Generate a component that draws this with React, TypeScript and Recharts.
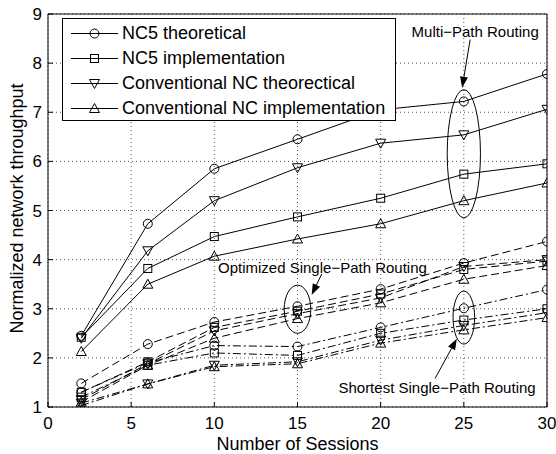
import React from "react";
import {
  LineChart,
  Line,
  XAxis,
  YAxis,
  CartesianGrid,
  Legend,
  ReferenceArea,
  ReferenceLine,
  ReferenceDot,
} from "recharts";

const FONT = "'Liberation Sans', Arial, Helvetica, sans-serif";

const SESSIONS = [2, 6, 10, 15, 20, 25, 30];
const X_TICKS = [0, 5, 10, 15, 20, 25, 30];
const Y_TICKS = [1, 2, 3, 4, 5, 6, 7, 8, 9];

// multi-path routing (solid)
const MP_NC5_THEO = [2.45, 4.73, 5.85, 6.45, 7.05, 7.22, 7.78];
const MP_NC5_IMPL = [2.42, 3.82, 4.47, 4.87, 5.25, 5.74, 5.95];
const MP_CNC_THEO = [2.4, 4.18, 5.2, 5.87, 6.37, 6.54, 7.06];
const MP_CNC_IMPL = [2.13, 3.5, 4.07, 4.42, 4.73, 5.2, 5.56];
// optimized single-path routing (dashed)
const OS_NC5_THEO = [1.48, 2.28, 2.73, 3.05, 3.4, 3.93, 4.37];
const OS_NC5_IMPL = [1.3, 1.92, 2.62, 2.95, 3.3, 3.8, 3.97];
const OS_CNC_THEO = [1.15, 1.88, 2.55, 2.9, 3.22, 3.86, 4.0];
const OS_CNC_IMPL = [1.1, 1.85, 2.4, 2.8, 3.12, 3.6, 3.88];
// shortest single-path routing (dash-dot)
const SS_NC5_THEO = [1.3, 1.9, 2.25, 2.23, 2.62, 3.01, 3.39];
const SS_NC5_IMPL = [1.2, 1.85, 2.1, 2.05, 2.5, 2.77, 3.0];
const SS_CNC_THEO = [1.08, 1.47, 1.85, 1.92, 2.36, 2.66, 2.92];
const SS_CNC_IMPL = [1.03, 1.47, 1.82, 1.88, 2.3, 2.57, 2.82];

const LEGEND_NAMES = [
  "NC5 theoretical",
  "NC5 implementation",
  "Conventional NC theorectical",
  "Conventional NC implementation",
];
const MARKERS = ["circle", "square", "down", "up"];

const SERIES = [
  { key: "mp0", values: MP_NC5_THEO, marker: 0, dash: undefined },
  { key: "mp1", values: MP_NC5_IMPL, marker: 1, dash: undefined },
  { key: "mp2", values: MP_CNC_THEO, marker: 2, dash: undefined },
  { key: "mp3", values: MP_CNC_IMPL, marker: 3, dash: undefined },
  { key: "os0", values: OS_NC5_THEO, marker: 0, dash: "8 4" },
  { key: "os1", values: OS_NC5_IMPL, marker: 1, dash: "8 4" },
  { key: "os2", values: OS_CNC_THEO, marker: 2, dash: "8 4" },
  { key: "os3", values: OS_CNC_IMPL, marker: 3, dash: "8 4" },
  { key: "ss0", values: SS_NC5_THEO, marker: 0, dash: "8 3 2 3" },
  { key: "ss1", values: SS_NC5_IMPL, marker: 1, dash: "8 3 2 3" },
  { key: "ss2", values: SS_CNC_THEO, marker: 2, dash: "8 3 2 3" },
  { key: "ss3", values: SS_CNC_IMPL, marker: 3, dash: "8 3 2 3" },
];

const data = SESSIONS.map((x, i) => {
  const row: Record<string, number> = { x };
  SERIES.forEach((s) => {
    row[s.key] = s.values[i];
  });
  return row;
});

// annotations, in data units
const ELLIPSES = [
  { x1: 24, x2: 26, y1: 4.85, y2: 7.46 },
  { x1: 14.2, x2: 15.8, y1: 2.5, y2: 3.48 },
  { x1: 24.35, x2: 25.65, y1: 2.28, y2: 3.36 },
];
const ARROWS = [
  [{ x: 25.38, y: 8.48 }, { x: 24.9, y: 7.5 }],
  [{ x: 16.46, y: 3.71 }, { x: 15.85, y: 3.28 }],
  [{ x: 23.27, y: 1.58 }, { x: 24.58, y: 2.39 }],
];
const NOTES = [
  { x: 25.68, y: 8.64, text: "Multi\u2212Path Routing" },
  { x: 16.5, y: 3.83, text: "Optimized Single\u2212Path Routing" },
  { x: 23.39, y: 1.4, text: "Shortest Single\u2212Path Routing" },
];

function Marker({ cx, cy, kind }: { cx: number; cy: number; kind: string }) {
  if (cx == null || cy == null) return null;
  const p = { fill: "none", stroke: "#000", strokeWidth: 1 };
  if (kind === "circle") return <circle cx={cx} cy={cy} r={4.5} {...p} />;
  if (kind === "square")
    return <rect x={cx - 4} y={cy - 4} width={8} height={8} {...p} />;
  if (kind === "down")
    return (
      <polygon
        points={`${cx - 5},${cy - 4} ${cx + 5},${cy - 4} ${cx},${cy + 5}`}
        {...p}
      />
    );
  return (
    <polygon
      points={`${cx - 5},${cy + 4} ${cx + 5},${cy + 4} ${cx},${cy - 5}`}
      {...p}
    />
  );
}

function LegendBox() {
  return (
    <div
      style={{
        border: "1px solid #000",
        background: "#fff",
        width: 334,
        height: 103,
        paddingTop: 2,
        boxSizing: "border-box",
        fontFamily: FONT,
        fontSize: 18,
        color: "#000",
      }}
    >
      {LEGEND_NAMES.map((name, i) => (
        <div
          key={name}
          style={{ display: "flex", alignItems: "center", height: 25 }}
        >
          <svg width={59} height={25} style={{ flex: "none" }}>
            <line x1={8} x2={55} y1={12.5} y2={12.5} stroke="#000" />
            <Marker cx={31.5} cy={12.5} kind={MARKERS[i]} />
          </svg>
          <span style={{ whiteSpace: "nowrap" }}>{name}</span>
        </div>
      ))}
    </div>
  );
}

function Arrow(props: any) {
  const { x1, y1, x2, y2 } = props;
  if ([x1, y1, x2, y2].some((v) => v == null)) return null;
  const a = Math.atan2(y2 - y1, x2 - x1);
  const len = 11;
  const w = 4;
  const bx = x2 - len * Math.cos(a);
  const by = y2 - len * Math.sin(a);
  const nx = -Math.sin(a) * w;
  const ny = Math.cos(a) * w;
  return (
    <g>
      <line x1={x1} y1={y1} x2={bx} y2={by} stroke="#000" strokeWidth={1} />
      <polygon
        points={`${x2},${y2} ${bx + nx},${by + ny} ${bx - nx},${by - ny}`}
        fill="#000"
      />
    </g>
  );
}

export default function App() {
  const tickStyle = { fontFamily: FONT, fontSize: 17, fill: "#000" };
  return (
    <div style={{ position: "absolute", left: 0, top: 0, background: "#fff" }}>
      <LineChart
        width={556}
        height={454}
        data={data}
        margin={{ top: 13, right: 8, bottom: 0, left: 0 }}
      >
        <CartesianGrid
          stroke="#555"
          strokeDasharray="1 3"
          xAxisId="b"
          yAxisId="l"
        />
        <XAxis
          xAxisId="b"
          dataKey="x"
          type="number"
          domain={[0, 30]}
          ticks={X_TICKS}
          height={47}
          tickSize={-5}
          tickMargin={15}
          stroke="#000"
          tick={tickStyle}
          allowDataOverflow
          label={{
            value: "Number of Sessions",
            position: "insideBottom",
            offset: 4,
            style: { fontFamily: FONT, fontSize: 18, fill: "#000" },
          }}
        />
        <XAxis
          xAxisId="t"
          dataKey="x"
          type="number"
          orientation="top"
          domain={[0, 30]}
          ticks={X_TICKS}
          height={1}
          tickSize={-5}
          tick={false}
          stroke="#000"
        />
        <YAxis
          yAxisId="l"
          type="number"
          domain={[1, 9]}
          ticks={Y_TICKS}
          width={48}
          tickSize={-5}
          tickMargin={11}
          stroke="#000"
          tick={tickStyle}
          allowDataOverflow
          label={{
            content: ({ viewBox }: any) => (
              <text
                x={viewBox.x + 17}
                y={viewBox.y + viewBox.height / 2 - 2}
                transform={`rotate(-90, ${viewBox.x + 17}, ${
                  viewBox.y + viewBox.height / 2 - 2
                })`}
                textAnchor="middle"
                dominantBaseline="central"
                fontFamily={FONT}
                fontSize={18}
                fill="#000"
              >
                Normalized network throughput
              </text>
            ),
          }}
        />
        <YAxis
          yAxisId="r"
          type="number"
          orientation="right"
          domain={[1, 9]}
          ticks={Y_TICKS}
          width={1}
          tickSize={-5}
          tick={false}
          stroke="#000"
        />
        {SERIES.map((s) => (
          <Line
            key={s.key}
            xAxisId="b"
            yAxisId="l"
            dataKey={s.key}
            type="linear"
            stroke="#000"
            strokeWidth={1}
            strokeDasharray={s.dash}
            isAnimationActive={false}
            legendType="none"
            dot={(p: any) => (
              <g key={`${s.key}-${p.index}`}>
                <Marker cx={p.cx} cy={p.cy} kind={MARKERS[s.marker]} />
              </g>
            )}
            activeDot={false}
          />
        ))}
        {ELLIPSES.map((e, i) => (
          <ReferenceArea
            key={`e${i}`}
            xAxisId="b"
            yAxisId="l"
            x1={e.x1}
            x2={e.x2}
            y1={e.y1}
            y2={e.y2}
            shape={(p: any) => (
              <ellipse
                cx={p.x + p.width / 2}
                cy={p.y + p.height / 2}
                rx={Math.abs(p.width) / 2}
                ry={Math.abs(p.height) / 2}
                fill="none"
                stroke="#000"
                strokeWidth={1}
              />
            )}
          />
        ))}
        {ARROWS.map((seg, i) => (
          <ReferenceLine
            key={`a${i}`}
            xAxisId="b"
            yAxisId="l"
            segment={seg}
            shape={(p: any) => <Arrow {...p} />}
          />
        ))}
        {NOTES.map((n, i) => (
          <ReferenceDot
            key={`n${i}`}
            xAxisId="b"
            yAxisId="l"
            x={n.x}
            y={n.y}
            r={0}
            shape={(p: any) => (
              <text
                x={p.cx}
                y={p.cy}
                textAnchor="middle"
                dominantBaseline="central"
                fontFamily={FONT}
                fontSize={15}
                fill="#000"
              >
                {n.text}
              </text>
            )}
          />
        ))}
        <Legend
          layout="vertical"
          align="center"
          verticalAlign="middle"
          wrapperStyle={{ left: 62, top: 18, width: 336 }}
          content={() => <LegendBox />}
        />
      </LineChart>
    </div>
  );
}
